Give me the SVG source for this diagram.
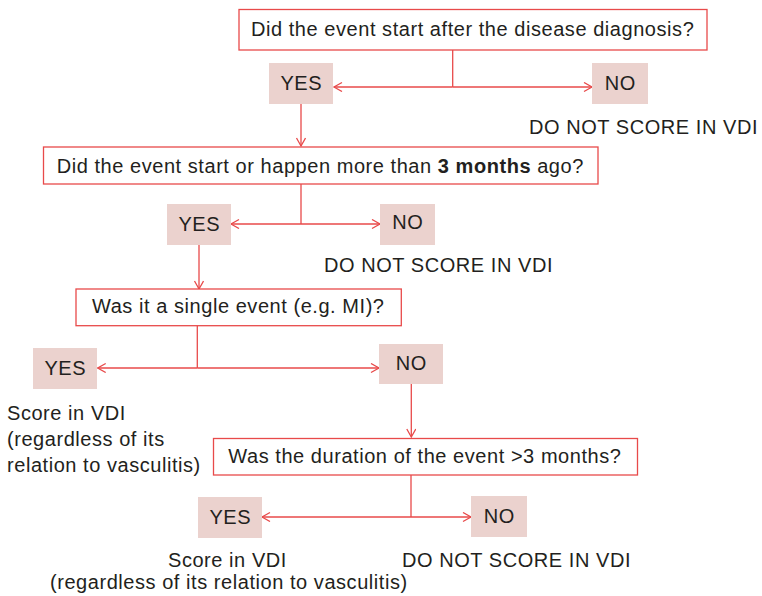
<svg xmlns="http://www.w3.org/2000/svg" width="762" height="596" viewBox="0 0 762 596">
<defs>
<style>
.q{fill:#fff;stroke:#e84a4a;stroke-width:1.3}
.a{fill:#ebd2ce;stroke:none}
.t{font-family:"Liberation Sans",Arial,sans-serif;font-size:20px;letter-spacing:0.55px;fill:#231f20}
.c{fill:none;stroke:#e84a4a;stroke-width:1.3}
</style>
<marker id="ah" markerUnits="userSpaceOnUse" markerWidth="12" markerHeight="12" refX="9" refY="5" orient="auto">
<path d="M1,0.5 L9,5 L1,9.5" fill="none" stroke="#e84a4a" stroke-width="1.3"/>
</marker>
</defs>
<rect width="762" height="596" fill="#fff"/>
<g id="connectors">
<path class="c" d="M452.7,50 V87"/>
<path class="c" d="M452.7,87 H334" marker-end="url(#ah)"/>
<path class="c" d="M452.7,87 H592" marker-end="url(#ah)"/>
<path class="c" d="M301,104 V146" marker-end="url(#ah)"/>
<path class="c" d="M301,184 V224"/>
<path class="c" d="M301,224 H231" marker-end="url(#ah)"/>
<path class="c" d="M301,224 H380" marker-end="url(#ah)"/>
<path class="c" d="M199,245 V289" marker-end="url(#ah)"/>
<path class="c" d="M197.3,326 V368"/>
<path class="c" d="M197.3,368 H97.7" marker-end="url(#ah)"/>
<path class="c" d="M197.3,368 H379" marker-end="url(#ah)"/>
<path class="c" d="M411.3,384 V437" marker-end="url(#ah)"/>
<path class="c" d="M411,475 V517"/>
<path class="c" d="M411,517 H262" marker-end="url(#ah)"/>
<path class="c" d="M411,517 H471" marker-end="url(#ah)"/>
</g>
<g id="q1"><rect class="q" x="239" y="9.5" width="468" height="40.5"/><text class="t" x="251" y="36">Did the event start after the disease diagnosis?</text></g>
<g id="yes1"><rect class="a" x="269" y="63" width="64" height="41"/><text class="t" x="301.3" y="90" text-anchor="middle">YES</text></g>
<g id="no1"><rect class="a" x="592" y="63" width="56" height="41"/><text class="t" x="620.3" y="90" text-anchor="middle">NO</text></g>
<g id="r1"><text class="t" x="529" y="134">DO NOT SCORE IN VDI</text></g>
<g id="q2"><rect class="q" x="43.5" y="147" width="554.5" height="37"/><text class="t" x="56.7" y="173">Did the event start or happen more than <tspan font-weight="bold">3 months</tspan> ago?</text></g>
<g id="yes2"><rect class="a" x="167" y="204" width="64" height="41"/><text class="t" x="199.3" y="231" text-anchor="middle">YES</text></g>
<g id="no2"><rect class="a" x="380" y="204" width="55" height="41"/><text class="t" x="407.8" y="229" text-anchor="middle">NO</text></g>
<g id="r2"><text class="t" x="324" y="272">DO NOT SCORE IN VDI</text></g>
<g id="q3"><rect class="q" x="76" y="289" width="325.3" height="36.7"/><text class="t" x="92" y="313">Was it a single event (e.g. MI)?</text></g>
<g id="yes3"><rect class="a" x="33" y="348" width="64" height="41"/><text class="t" x="65.3" y="375" text-anchor="middle">YES</text></g>
<g id="no3"><rect class="a" x="379" y="344" width="64" height="40"/><text class="t" x="411.3" y="370" text-anchor="middle">NO</text></g>
<g id="r3"><text class="t" x="7" y="420">Score in VDI</text><text class="t" x="7" y="446">(regardless of its</text><text class="t" x="7" y="472">relation to vasculitis)</text></g>
<g id="q4"><rect class="q" x="213.5" y="438.5" width="424" height="36.5"/><text class="t" x="228.3" y="463">Was the duration of the event &gt;3 months?</text></g>
<g id="yes4"><rect class="a" x="198" y="497" width="64" height="41"/><text class="t" x="230.3" y="524" text-anchor="middle">YES</text></g>
<g id="no4"><rect class="a" x="471" y="496" width="56" height="41"/><text class="t" x="499.3" y="523" text-anchor="middle">NO</text></g>
<g id="r4"><text class="t" x="168" y="567">Score in VDI</text><text class="t" x="50" y="589">(regardless of its relation to vasculitis)</text></g>
<g id="r5"><text class="t" x="402" y="567">DO NOT SCORE IN VDI</text></g>
</svg>
